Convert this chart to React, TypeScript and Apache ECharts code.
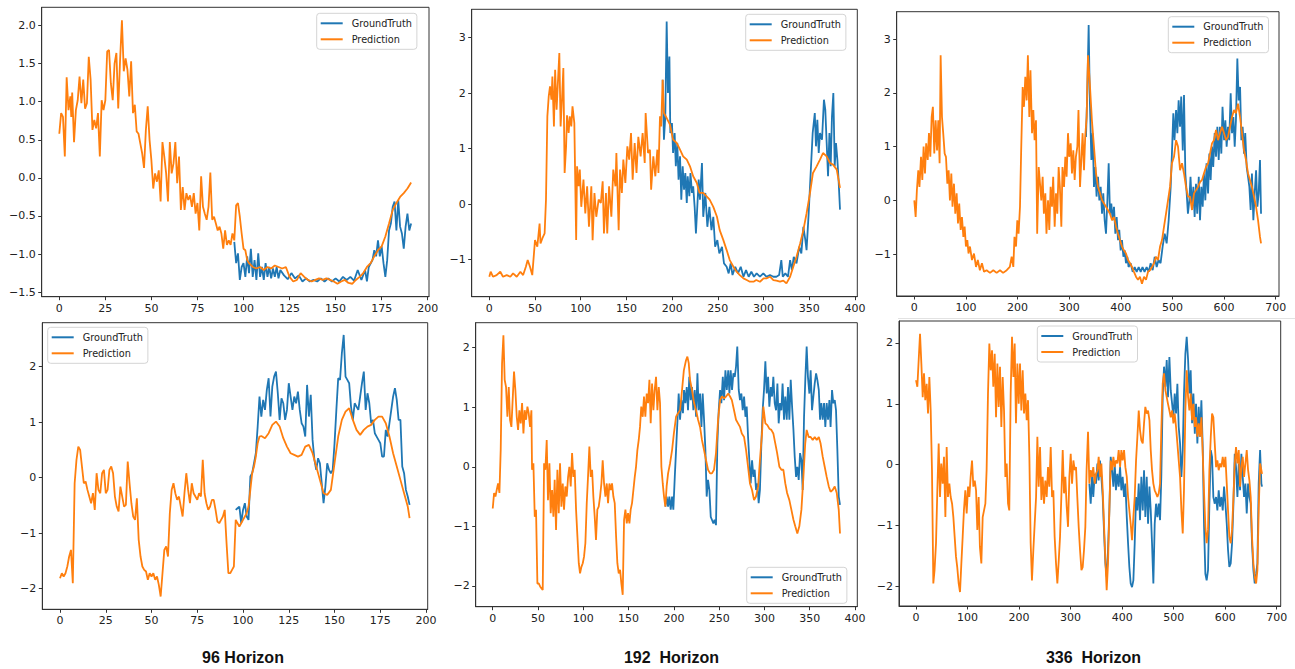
import React, { useEffect, useRef } from 'react';
import * as echarts from 'echarts';

type Pt = [number, number];

// ---------- tick labels ----------
const xTicks200 = [0, 25, 50, 75, 100, 125, 150, 175, 200];
const xTicks400 = [0, 50, 100, 150, 200, 250, 300, 350, 400];
const xTicks700 = [0, 100, 200, 300, 400, 500, 600, 700];
const yTicksA = [-1.5, -1, -0.5, 0, 0.5, 1, 1.5, 2];
const yTicksB = [-1, 0, 1, 2, 3];
const yTicksC = [-2, -1, 0, 1, 2];
const horizonTitles = ['96 Horizon', '192  Horizon', '336  Horizon'];
const seriesNames = ['GroundTruth', 'Prediction'];

// ---------- 96 horizon, top ----------
const h96aPred: Pt[] = [[0,0.58],[1,0.85],[2,0.8],[3,0.28],[4,1.32],[5,0.89],[6,1.07],[6.5,0.8],[7,1.12],[8,0.47],[9,0.89],[10,1.02],[11,1.33],[12,0.98],[13,1.29],[14,0.91],[15,0.98],[16,1.59],[17,1.29],[18,0.63],[19,0.76],[20,0.65],[21,0.85],[22,0.28],[23,1.02],[24,0.89],[25,1.02],[26,1.66],[27,1.68],[28,1.24],[29,1.02],[30,1.5],[31,1.64],[32,0.91],[33,1.55],[34,2.07],[35,1.4],[36,1.57],[37,1.42],[38,1.07],[39,1.53],[40,0.85],[41,0.96],[42,0.61],[43,0.58],[44,0.45],[45,0.32],[46,0.13],[47,0.63],[48,0.94],[49,0.5],[50,0.23],[51,-0.14],[52,0.06],[53,-0.05],[54,0.1],[55,-0.31],[56,0.47],[57,0.28],[58,0.06],[59,-0.31],[60,0.47],[61,0.06],[62,0.19],[63,0.47],[64,-0.07],[65,0.28],[66,-0.42],[67,-0.12],[68,-0.42],[69,-0.2],[70,-0.29],[71,-0.23],[72,-0.38],[73,-0.2],[74,-0.47],[75,-0.33],[76,-0.69],[77,0.02],[78,-0.38],[79,-0.47],[80,-0.55],[81,-0.38],[82,0.07],[83,-0.55],[84,-0.51],[85,-0.6],[86,-0.69],[87,-0.64],[88,-0.73],[89,-0.93],[90,-0.69],[91,-0.88],[92,-0.82],[93,-0.88],[94,-0.73],[95,-0.82],[96,-0.36],[97,-0.33],[98,-0.51],[99,-0.73],[100,-0.93],[101,-0.95],[102,-1.08],[103,-1.12],[105,-1.17],[107,-1.19],[109,-1.17],[111,-1.21],[113,-1.17],[115,-1.19],[117,-1.15],[119,-1.17],[121,-1.19],[123,-1.17],[125,-1.3],[127,-1.36],[129,-1.34],[131,-1.25],[133,-1.3],[135,-1.34],[137,-1.36],[139,-1.34],[141,-1.32],[143,-1.34],[145,-1.32],[147,-1.34],[149,-1.36],[151,-1.39],[153,-1.36],[155,-1.34],[157,-1.38],[159,-1.39],[161,-1.34],[163,-1.3],[165,-1.25],[167,-1.17],[169,-1.12],[171,-1.03],[173,-0.95],[175,-0.9],[177,-0.77],[179,-0.6],[181,-0.42],[183,-0.33],[185,-0.25],[187,-0.2],[189,-0.14],[191,-0.06]];
const h96aTrue: Pt[] = [[95,-0.84],[96,-1.12],[97,-0.99],[98,-1.34],[99,-1.17],[100,-1.12],[101,-1.3],[102,-1.03],[103,-1.25],[104,-0.93],[105,-1.3],[106,-1.08],[107,-1.34],[108,-0.99],[109,-1.3],[110,-1.17],[111,-1.34],[112,-1.12],[113,-1.3],[114,-1.17],[115,-1.32],[116,-1.19],[117,-1.3],[118,-1.17],[119,-1.32],[120,-1.21],[122,-1.28],[124,-1.33],[126,-1.25],[128,-1.32],[130,-1.28],[132,-1.36],[134,-1.32],[136,-1.36],[138,-1.34],[140,-1.36],[142,-1.32],[144,-1.36],[146,-1.32],[148,-1.36],[150,-1.32],[152,-1.36],[154,-1.3],[156,-1.34],[158,-1.3],[160,-1.35],[162,-1.21],[164,-1.34],[166,-1.21],[167,-1.36],[168,-1.17],[170,-1.08],[171,-0.95],[172,-1.03],[173,-0.82],[174,-1.03],[175,-0.9],[176,-1.12],[177,-1.3],[178,-1.08],[179,-0.69],[180,-0.6],[181,-0.38],[182,-0.31],[183,-0.69],[184,-0.29],[185,-0.64],[186,-0.73],[187,-0.93],[188,-0.64],[189,-0.47],[190,-0.69],[191,-0.6]];

// ---------- 192 horizon, top ----------
const h192aPred: Pt[] = [[0,-1.31],[1.5,-1.22],[4,-1.31],[8,-1.28],[12,-1.22],[15,-1.31],[19,-1.28],[23,-1.31],[26,-1.25],[30,-1.31],[34,-1.22],[37,-1.28],[40,-1.13],[42,-1.01],[44.5,-1.13],[47,-1.28],[48,-1.07],[50,-0.65],[52.5,-0.77],[55,-0.35],[56,-0.71],[58,-0.62],[60.5,-0.53],[62,0.08],[63.5,1.58],[65,1.94],[66.4,2.12],[68,1.88],[69,2.3],[70.7,1.4],[72,2.42],[73.6,1.7],[75,2.18],[76.6,2.72],[78,1.4],[79.5,1.88],[81,2.45],[82.4,0.56],[84,1.04],[85,1.6],[86.8,1.28],[88,1.58],[89.7,1.4],[91,1.76],[93,1.46],[95,-0.65],[96,0.68],[97.7,0.32],[99,0.62],[100.6,-0.05],[103,0.44],[105,-0.17],[107,0.32],[109,-0.41],[111.6,0.32],[113,-0.65],[115,0.2],[117,-0.23],[119.6,0.08],[122,0.02],[124,0.41],[125.4,-0.53],[127.6,0.2],[129,-0.53],[131,0.32],[133.5,-0.23],[135.6,0.62],[138,0.32],[139,0.92],[141.5,-0.47],[143,0.62],[145,0.2],[146.6,0.8],[148.8,0.38],[151,1.04],[153,0.8],[155,1.28],[156.8,0.44],[159,1.1],[161,0.56],[163,1.21],[165.5,0.86],[167.7,1.28],[170,0.74],[171,1.64],[173.6,0.92],[175.7,0.98],[177,0.26],[179.4,0.86],[181.6,0.5],[183.8,0.98],[185,0.56],[186.7,1.58],[188,1.4],[189.6,2.24],[191,1.64],[194,1.55],[197.6,1.43],[201,1.16],[205,1.1],[208.6,0.98],[212,0.86],[216,0.8],[219.5,0.68],[223,0.5],[227,0.38],[230,0.2],[234,0.2],[237.7,0.14],[241,0.08],[245,-0.05],[249,-0.23],[252,-0.47],[256,-0.65],[259.6,-0.83],[263,-1.01],[267,-1.13],[270.5,-1.22],[274,-1.28],[278,-1.34],[281.5,-1.37],[285,-1.4],[289,-1.4],[292,-1.37],[296,-1.4],[300,-1.34],[303,-1.34],[307,-1.31],[310.7,-1.37],[314,-1.38],[318,-1.4],[321.6,-1.38],[325,-1.43],[329,-1.31],[332.5,-1.13],[336,-0.95],[340,-0.71],[343.5,-0.47],[347,-0.17],[350.8,0.2],[354,0.56],[358,0.68],[361.7,0.8],[365,0.92],[369,0.86],[372.6,0.74],[376,0.71],[380,0.62],[383.6,0.29]];
const h192aTrue: Pt[] = [[189.6,2.24],[191,1.16],[192.5,1.58],[194,3.29],[195.4,2.0],[197,2.66],[198,1.28],[199.8,1.46],[201,0.92],[202.7,1.28],[204,0.68],[205.6,1.1],[207,0.44],[208.6,0.86],[210,0.08],[211.5,0.68],[213,0.26],[214.4,0.56],[216,0.02],[217,0.5],[218.8,0.14],[220,0.56],[221.7,0.2],[223,0.32],[224.6,-0.05],[226,-0.53],[227.5,-0.05],[229,0.44],[230.4,0.08],[232.6,0.74],[234,-0.23],[236.3,0.2],[238.5,-0.41],[240.7,-0.05],[243,-0.47],[245,-0.23],[247,-0.77],[249.4,-0.65],[251.6,-0.89],[254.5,-0.77],[256.7,-1.07],[259.6,-1.13],[261.8,-1.25],[264,-1.07],[266,-1.28],[269,-1.13],[272,-1.25],[275,-1.13],[278,-1.31],[280.8,-1.19],[283.7,-1.31],[286.6,-1.22],[289.5,-1.31],[292.4,-1.25],[296,-1.31],[299.7,-1.25],[303,-1.31],[307,-1.28],[310.7,-1.31],[314,-1.31],[317,-1.28],[319.4,-1.01],[321,-1.31],[323.8,-1.25],[326.7,-1.31],[329,-1.01],[331,-1.19],[333,-0.95],[336,-1.07],[339,-0.77],[341.3,-0.89],[343.5,-0.41],[345.7,-0.65],[347,-0.83],[349.3,-0.17],[351.5,0.56],[353.7,1.28],[356,1.64],[357.3,1.04],[358.8,1.52],[360.3,0.92],[361.7,1.28],[363.9,1.16],[366,1.88],[367.5,1.7],[369,1.1],[370.5,0.5],[372,1.28],[373.4,0.68],[374.8,1.58],[376.3,2.0],[377.8,0.68],[379.2,1.1],[380.7,0.8],[382,0.44],[383.6,-0.1]];

// ---------- 336 horizon, top ----------
const h336aPred: Pt[] = [[0,0.0],[2.6,-0.31],[5,0.19],[7.7,0.56],[10,0.25],[13,0.81],[15.5,0.38],[18,1.0],[20.7,0.5],[23,1.06],[26,0.75],[28.4,1.25],[31,0.81],[33.6,1.55],[36,1.74],[38.7,0.87],[41.3,1.49],[44,0.93],[46.5,1.49],[49,0.69],[51,2.7],[53.6,1.55],[56,1.25],[58.8,0.87],[61.3,0.81],[64,0.31],[66.5,0.56],[69,0.0],[71.7,0.5],[74,-0.12],[76.8,0.31],[79.4,-0.25],[82,0.13],[84.6,-0.43],[87,-0.06],[89.8,-0.55],[92.3,-0.31],[95,-0.68],[97.5,-0.49],[100,-0.86],[102.7,-0.74],[105,-0.99],[107.8,-0.86],[111.7,-1.11],[115.6,-0.99],[119.5,-1.24],[123,-1.11],[127,-1.3],[131,-1.17],[135,-1.33],[140,-1.3],[146.6,-1.35],[153,-1.3],[159.5,-1.35],[166,-1.3],[172,-1.35],[179,-1.3],[185,-1.24],[188.6,-1.05],[191.8,-1.24],[194,-0.68],[197,-0.86],[199.5,-0.37],[202,-0.62],[204.7,-0.12],[207,0.93],[209.9,2.11],[212.4,1.74],[215,2.3],[217.6,1.86],[220,2.7],[222.8,1.55],[225,2.42],[228,1.25],[230.5,1.68],[233,1.12],[235.7,1.49],[238,-0.62],[241,0.62],[243.5,0.31],[246,0.0],[248.6,0.44],[251,-0.25],[253.8,0.13],[256,-0.62],[259,0.0],[261.5,-0.55],[264,0.25],[266.7,-0.12],[269,0.44],[271.9,-0.49],[274.4,0.13],[277,-0.25],[279.6,0.62],[282,0.25],[284.8,-0.49],[287,0.62],[290,0.25],[292.5,0.81],[295,0.44],[297.7,1.25],[300,0.81],[302.9,1.06],[305.4,0.5],[308,0.93],[310.6,0.38],[313,0.81],[315.8,1.0],[318,1.68],[321,0.25],[323.5,0.75],[326,1.25],[328.7,0.56],[331,1.18],[333.8,1.55],[336.4,2.7],[340,2.17],[344,1.49],[348,1.0],[352,0.5],[355.8,0.25],[359.7,0.13],[363.6,0.0],[367.4,-0.06],[371.3,-0.12],[375,-0.18],[379,-0.25],[383,-0.37],[386.8,-0.31],[390.7,-0.49],[394.6,-0.62],[398.4,-0.74],[402.3,-0.86],[406,-0.93],[410,-0.99],[414,-1.11],[417.8,-1.17],[421.7,-1.24],[425.5,-1.33],[429.4,-1.42],[433.3,-1.48],[437,-1.42],[441,-1.55],[445,-1.42],[448.8,-1.48],[452.7,-1.33],[456.5,-1.3],[460.4,-1.24],[464.3,-1.17],[468,-1.05],[472,-1.11],[476,-0.86],[479.8,-0.74],[483.7,-0.49],[487.5,-0.25],[491.4,0.0],[495.3,0.25],[499,0.69],[503,0.81],[507,1.12],[510.8,1.0],[514.7,0.56],[518.5,0.69],[522.4,0.5],[526.3,0.25],[530,0.07],[534,0.07],[538,-0.18],[541.8,0.13],[545.6,0.19],[549.5,0.25],[553.4,0.34],[557.3,0.38],[561,0.5],[565,0.62],[569,0.69],[572.8,0.87],[576.6,1.06],[580.5,1.12],[584.4,1.31],[588.3,1.12],[592,1.25],[596,1.37],[600,1.25],[603.8,1.12],[607.6,1.18],[611.5,1.37],[615.4,1.55],[619.3,1.68],[623,1.62],[627,1.8],[631,1.55],[634.8,1.25],[638.6,0.93],[642.5,0.75],[646.4,0.5],[650.2,0.38],[654,0.25],[658,0.07],[662,-0.12],[665.8,-0.37],[669.6,-0.68],[671.6,-0.8]];
const h336aTrue: Pt[] = [[332.6,1.18],[335,1.99],[337.7,3.26],[340,1.86],[343,0.75],[345.5,1.25],[348,0.25],[350.6,0.62],[353,0.07],[355.8,0.44],[358.4,0.0],[361,0.25],[363.6,-0.25],[366,0.13],[368.7,-0.37],[371.3,-0.62],[374,0.0],[376.5,0.69],[379,-0.25],[381.6,-0.06],[384,-0.37],[386.8,-0.12],[389.4,-0.62],[392,-0.31],[394.6,-0.74],[397,-0.55],[399.7,-0.93],[402.3,-0.74],[405,-1.05],[407.5,-0.93],[410,-1.17],[412.6,-1.05],[415,-1.24],[419,-1.17],[423,-1.33],[426.8,-1.24],[430.7,-1.33],[434.6,-1.24],[438.5,-1.33],[442,-1.24],[446,-1.33],[450,-1.24],[454,-1.33],[457.8,-1.17],[461.7,-1.3],[465.6,-1.05],[469.5,-1.24],[473,-1.11],[477,-1.17],[481,-0.86],[485,-0.62],[488.8,-0.8],[492.7,-0.37],[496.6,0.25],[499,0.87],[501.7,1.62],[504,1.12],[507,1.68],[509.5,1.25],[512,1.86],[514.7,1.37],[517,1.93],[520,0.93],[522.4,1.96],[525,0.5],[527.6,0.13],[530,-0.25],[532.7,0.0],[535,0.44],[538,-0.18],[540.5,0.25],[543,-0.31],[545.6,0.31],[548,-0.25],[551,0.44],[553.4,-0.37],[556,0.25],[558.6,-0.12],[561,0.5],[563.7,0.0],[566,0.69],[569,0.13],[571.5,0.87],[574,0.38],[576.6,1.0],[579,0.62],[581.8,1.25],[584.4,0.81],[587,1.37],[589.6,0.75],[592,1.37],[594.7,0.87],[597,1.74],[600,1.12],[602.5,1.49],[605,1.0],[607.6,1.37],[610,1.12],[612.8,1.99],[615.4,1.25],[618,1.55],[620.6,1.0],[623,1.49],[625.7,2.64],[628.3,1.86],[631,2.11],[633.5,1.12],[636,1.37],[638.6,0.87],[641,1.25],[643.8,0.62],[646.4,0.44],[649,0.25],[651.5,-0.18],[654,0.5],[656.7,-0.37],[659.3,0.13],[662,0.56],[664.5,-0.12],[667,0.13],[669.6,0.75],[671.6,-0.25]];

// ---------- 96 horizon, bottom ----------
const h96bPred: Pt[] = [[0,-1.81],[1,-1.72],[2,-1.78],[3,-1.72],[4,-1.6],[5,-1.42],[6,-1.3],[7,-1.9],[8,-0.1],[9,0.32],[10,0.56],[11,0.5],[12,0.2],[13,-0.1],[14,-0.07],[15,-0.22],[16,-0.34],[17,-0.46],[18,-0.28],[19,-0.58],[20,0.08],[21,-0.22],[22,-0.28],[23,0.08],[24,0.14],[25,-0.28],[26,-0.22],[27,0.14],[28,0.2],[29,0.08],[30,-0.34],[31,-0.52],[32,-0.61],[33,-0.16],[34,-0.34],[35,-0.52],[36,-0.49],[37,0.29],[38,-0.1],[39,-0.46],[40,-0.7],[41,-0.76],[42,-0.37],[43,-1.12],[44,-1.42],[45,-1.6],[46,-1.66],[47,-1.69],[48,-1.84],[49,-1.72],[50,-1.78],[51,-1.72],[52,-1.84],[53,-1.78],[54,-1.93],[55,-2.14],[56,-1.72],[57,-1.3],[58,-1.24],[59,-1.42],[60,-0.64],[61,-0.22],[62,-0.1],[63,-0.28],[64,-0.4],[65,-0.34],[66,-0.52],[67,-0.7],[68,-0.28],[69,0.08],[70,-0.22],[71,-0.46],[72,-0.1],[73,-0.28],[74,-0.34],[75,-0.4],[76,-0.28],[77,-0.34],[78,0.32],[79,-0.28],[80,-0.46],[81,-0.58],[82,-0.52],[83,-0.4],[84,-0.4],[85,-0.58],[86,-0.79],[87,-0.82],[88,-0.76],[89,-0.7],[90,-0.58],[91,-1.18],[92,-1.72],[93,-1.72],[94,-1.66],[95,-1.6],[96,-0.76],[97,-0.82],[98,-0.88],[99,-0.82],[100,-0.76],[101,-0.7],[102,-0.64],[103,-0.52],[104,-0.22],[105,0.08],[106,0.2],[107,0.38],[108,0.62],[109,0.74],[110,0.75],[112,0.71],[114,0.8],[116,0.95],[118,1.01],[120,0.92],[122,0.71],[124,0.56],[126,0.44],[128,0.41],[130,0.38],[132,0.41],[134,0.56],[136,0.59],[138,0.44],[140,0.2],[142,-0.04],[144,-0.28],[146,-0.31],[148,-0.22],[150,0.26],[152,0.74],[154,1.04],[156,1.19],[158,1.25],[160,1.04],[162,0.86],[164,0.77],[166,0.86],[168,0.92],[170,0.95],[172,1.04],[174,1.1],[176,1.1],[178,0.98],[180,0.74],[182,0.44],[184,0.2],[186,-0.04],[188,-0.28],[190,-0.52],[191,-0.73]];
const h96bTrue: Pt[] = [[96,-0.58],[97,-0.55],[98,-0.52],[99,-0.82],[100,-0.58],[101,-0.46],[102,-0.7],[103,-0.76],[104,0.02],[105,0.08],[106,0.26],[107,0.44],[108,0.92],[109,1.46],[110,1.1],[111,1.4],[112,1.22],[113,1.58],[114,1.79],[115,1.1],[116,1.64],[117,1.82],[118,1.91],[119,1.52],[120,1.04],[121,1.43],[122,1.34],[123,1.04],[124,1.22],[125,1.7],[126,1.46],[127,1.22],[128,1.46],[129,1.34],[130,1.55],[131,1.22],[132,0.98],[133,0.92],[134,0.74],[135,1.67],[136,1.1],[137,1.49],[138,0.68],[139,0.32],[140,0.14],[141,0.35],[142,0.26],[143,-0.1],[144,-0.46],[145,-0.16],[146,0.26],[147,0.14],[148,0.08],[149,0.14],[150,0.62],[151,1.22],[152,1.79],[153,1.76],[154,2.24],[155,2.57],[156,1.82],[157,1.76],[158,1.7],[159,1.28],[160,1.04],[161,1.34],[162,1.28],[163,1.22],[164,1.46],[165,1.7],[166,1.91],[167,1.22],[168,1.52],[169,1.34],[170,0.98],[171,1.04],[172,0.8],[173,0.74],[174,0.68],[175,0.62],[176,0.38],[177,0.38],[178,0.86],[179,0.74],[180,0.98],[181,1.22],[182,1.46],[183,1.61],[184,1.4],[185,1.04],[186,1.04],[187,0.2],[188,0.08],[189,-0.22],[190,-0.34],[191,-0.49]];

// ---------- 192 horizon, bottom ----------
const h192bPred: Pt[] = [[0,-0.7],[1.5,-0.44],[3,-0.5],[4.4,-0.39],[5.9,-0.28],[7.4,-0.44],[8.8,0.28],[10.3,1.74],[11.8,2.21],[13.2,1.46],[14.7,1.34],[16.2,0.84],[17.7,1.34],[19.1,0.79],[20.6,0.67],[22,1.12],[23.5,1.6],[25,1.29],[26.5,0.84],[28,0.62],[29.4,0.95],[30.9,0.73],[32.4,1.07],[33.9,0.56],[35.3,0.95],[36.8,0.79],[38.3,1.01],[39.7,0.9],[41.2,0.67],[42.7,0.95],[43.4,-0.05],[44.9,0.06],[46.4,-0.84],[47.8,-0.72],[49.3,-1.96],[50.8,-1.96],[52.3,-2.01],[53.7,-2.04],[55.2,-2.07],[56.7,0.06],[58.1,-0.05],[59.6,0.45],[61,-0.56],[62.6,0.06],[64,-0.78],[65.5,-0.39],[67,-0.84],[68.4,-0.22],[69.9,-1.06],[71.4,-0.05],[72.9,-0.78],[74.3,0.06],[75.8,-0.67],[77.3,-0.28],[78.7,-0.72],[80.2,-0.33],[81.7,-0.5],[83.2,-0.17],[84.6,0.0],[86.1,-0.33],[87.6,0.23],[89,-0.17],[90.5,-0.05],[92,-0.72],[93.5,-1.17],[95,-1.62],[96.4,-1.79],[97.9,-1.68],[99.4,-1.62],[100.8,-1.51],[102.3,-1.28],[103.8,-0.61],[105.2,-0.17],[106.7,0.34],[108.2,-0.17],[109.7,-0.05],[111.1,-0.5],[112.6,-0.84],[114,-1.23],[115.5,-0.72],[117,-0.67],[118.5,-0.5],[120,-0.28],[121.4,0.11],[122.9,-0.28],[124.4,-0.5],[125.9,-0.28],[127.3,-0.61],[128.8,-0.28],[130.3,-0.39],[131.7,-0.28],[133.2,-0.5],[134.7,-0.61],[136.2,-1.17],[137.6,-1.62],[139.1,-1.79],[140.6,-1.73],[142,-1.96],[143.5,-2.15],[145,-0.89],[146.5,-0.72],[148,-0.95],[149.4,-0.78],[150.9,-0.95],[152.3,-0.72],[153.8,-0.61],[155.3,-0.39],[156.8,-0.17],[158.2,0.0],[159.7,0.28],[161.2,0.45],[162.6,0.67],[164,1.01],[165.6,0.84],[167,1.18],[168.5,0.84],[170,1.23],[171.5,1.07],[173,1.46],[174.4,0.73],[175.9,1.4],[177.4,0.95],[178.8,1.29],[180.3,1.51],[181.8,0.95],[183.3,1.34],[184.7,1.07],[186.2,0.0],[187.7,-0.28],[189.1,-0.5],[190.6,-0.67],[192,-0.33],[193.6,-0.11],[195.8,0.06],[198,0.28],[200,0.56],[202.4,0.84],[204.6,0.9],[206.8,0.95],[209,1.29],[211,1.62],[213.4,1.79],[214.9,1.85],[216.4,1.74],[217.8,1.46],[220,1.29],[222.3,1.07],[224.5,0.95],[226.7,0.79],[228.9,0.67],[231,0.45],[233.3,0.28],[235.5,0.11],[237.7,-0.05],[240,-0.11],[242,-0.11],[244.3,-0.05],[246.5,0.23],[248.8,0.79],[251,1.12],[253,1.18],[255.4,1.15],[257.6,1.18],[260,1.23],[262,1.18],[264,1.12],[266.4,0.95],[268.6,0.79],[270.8,0.73],[273,0.67],[275,0.56],[277.5,0.5],[279.7,0.28],[281.9,0.0],[284,-0.28],[286.3,-0.39],[288.5,-0.56],[290.7,-0.5],[293,-0.33],[295,0.11],[297.3,0.56],[298.8,1.01],[301,0.73],[303.2,0.7],[305.4,0.64],[307.6,0.62],[309.8,0.56],[312,0.39],[314,0.23],[316.5,0.0],[318.7,-0.05],[320.9,-0.05],[323,-0.28],[325,-0.44],[327.5,-0.56],[329.7,-0.72],[332,-0.89],[334,-1.0],[336.3,-1.12],[338.5,-1.0],[340.8,-0.72],[343,-0.17],[345,0.39],[346.6,0.62],[348.8,0.5],[351,0.5],[353.3,0.45],[355.5,0.5],[357.7,0.45],[360,0.5],[362,0.39],[364.3,0.17],[366.5,0.0],[368.7,-0.17],[371,-0.33],[373,-0.42],[375.3,-0.39],[377.6,-0.33],[379.8,-0.44],[382,-0.72],[383.4,-1.12]];
const h192bTrue: Pt[] = [[190.6,-0.67],[192,-0.5],[193.6,-0.67],[195,-0.5],[196.5,-0.72],[198,-0.5],[199.4,-0.72],[201,-0.17],[202.4,0.28],[204,0.79],[205.3,1.23],[206.8,0.79],[208.3,1.12],[210,0.9],[211.2,1.29],[212.7,1.07],[214.2,1.34],[215.6,0.95],[217,1.51],[218.6,1.12],[220,1.34],[221.5,0.95],[223,1.29],[224.5,0.84],[226,1.57],[227.4,0.95],[228.9,1.23],[230.4,0.67],[231.8,1.23],[233.3,0.79],[234.8,0.28],[236.2,-0.5],[237.7,-0.22],[239.2,-0.39],[240.7,-0.84],[242,-0.89],[243.6,-0.95],[245,-0.89],[246.5,-0.98],[248,0.39],[249.5,0.95],[251,1.29],[252.4,1.07],[254,1.51],[255.4,1.12],[256.9,1.62],[258.4,1.29],[260,1.62],[261.3,1.23],[262.7,1.62],[264.2,1.29],[265.7,1.57],[267.2,1.51],[268.6,1.68],[270,2.02],[271.6,1.29],[273,1.12],[274.5,1.23],[276,0.95],[277.5,1.18],[279,0.84],[280.4,1.01],[281.9,0.5],[283.3,0.11],[284.8,-0.28],[286.3,0.11],[287.8,-0.17],[289.2,-0.05],[290.7,-0.39],[292.2,-0.28],[293.6,-0.61],[295,-0.39],[296.6,0.39],[298,0.95],[299.5,1.29],[301,1.77],[302.5,1.23],[304,1.51],[305.4,1.01],[307,1.34],[308.4,1.18],[309.8,1.51],[311.3,1.07],[312.8,0.95],[314.3,1.4],[315.7,0.73],[317.2,1.07],[318.7,0.95],[320,1.4],[321.6,0.79],[323,1.18],[324.6,0.79],[326,1.34],[327.5,0.79],[329,1.46],[330.5,1.01],[332,0.62],[333.4,0.17],[334.9,-0.17],[336.3,0.0],[337.8,-0.22],[339.3,0.23],[340.8,0.11],[342.2,-0.39],[343.7,0.84],[345.2,1.51],[346.6,2.02],[348,1.51],[349.6,1.23],[351,1.62],[352.5,0.95],[354,1.18],[355.5,1.4],[357,1.57],[358.4,1.46],[360,1.29],[361.4,0.79],[362.8,1.07],[364.3,0.79],[365.8,1.07],[367.2,0.67],[368.7,1.07],[370.2,0.79],[371.7,1.12],[373,0.67],[374.6,1.29],[376,1.07],[377.6,1.12],[379,0.95],[380.5,0.28],[382,-0.5],[383.4,-0.64]];

// ---------- 336 horizon, bottom ----------
const h336bPred: Pt[] = [[0,1.39],[2.6,1.28],[5.2,1.72],[7.8,2.15],[10.4,1.66],[13,1.11],[15.5,1.5],[18,1.06],[20.7,1.33],[23.3,0.84],[25.9,1.44],[28.5,0.89],[31,-0.09],[33.6,-1.95],[36,-1.73],[38.8,-1.29],[41.4,-0.42],[44,0.35],[46.6,-0.53],[49,0.02],[51.8,-0.31],[54.3,0.13],[57,-0.86],[59.5,0.29],[62,-0.53],[64.7,-0.31],[67.3,-0.53],[70,-0.64],[72.5,-0.86],[75,-1.18],[77.6,-1.51],[80,-1.68],[82.8,-1.95],[85.4,-2.09],[88,-1.62],[90.6,-1.18],[93,-0.75],[95.7,-0.42],[98.3,-0.8],[101,-0.36],[103.5,-0.53],[106,-0.2],[108.7,0.07],[111.3,-0.36],[114,-0.26],[116.5,-0.42],[119,-1.07],[121.6,-0.53],[124,-1.35],[126.8,-1.62],[129.4,-0.86],[132,-0.75],[134.6,-0.64],[137,-0.09],[139.7,1.17],[142.3,1.99],[145,1.55],[147.5,1.88],[150,1.28],[152.7,1.82],[155.3,0.78],[157.9,1.66],[160.4,0.95],[163,1.61],[165.6,0.62],[168.2,1.44],[170.8,0.89],[173.4,-0.2],[176,0.02],[178.6,-0.64],[181,-0.75],[183.7,1.17],[186.3,2.1],[189,1.44],[191.5,1.99],[194,0.68],[196.7,1.66],[199.3,1.0],[201.8,1.66],[204.4,0.89],[207,1.55],[209.6,0.84],[212.2,1.17],[214.8,0.73],[217.4,1.06],[220,0.13],[222.5,-1.29],[225,-1.9],[227.7,-1.4],[230.3,-0.97],[233,-0.53],[235.5,0.46],[238,-0.36],[240.7,0.29],[243.3,-0.58],[245.8,-0.2],[248.4,-0.64],[251,-0.26],[253.6,-0.53],[256.2,-0.04],[258.8,-0.36],[261.4,0.29],[264,-0.53],[266.5,-0.42],[269,-1.18],[271.7,-1.62],[274.3,-1.95],[277,-1.57],[279.5,-1.18],[282,-0.53],[284.7,0.24],[287.2,-0.47],[289.8,-0.2],[292.4,-0.69],[295,-1.02],[297.6,-0.2],[300.2,0.18],[302.8,-0.31],[305.4,0.07],[308,-0.09],[310.5,-0.04],[313,-0.53],[315.7,-1.02],[318.3,-1.4],[321,-1.73],[323.5,-1.68],[326,-1.4],[328.6,-1.02],[331,-0.09],[333.8,0.54],[336.4,-0.31],[339,-0.09],[341.6,-0.2],[344,-0.04],[346.8,-0.31],[349.3,-0.15],[352,-0.09],[354.5,0.13],[357,-0.2],[359.7,0.02],[362.3,-0.42],[365,-1.02],[367.5,-1.57],[370,-2.06],[372.6,-1.62],[375.2,-0.75],[377.8,0.07],[380.4,-0.09],[383,0.13],[385.6,-0.04],[388,0.07],[390.7,0.02],[393.3,0.24],[396,-0.04],[398.5,0.24],[401,0.07],[403.7,0.24],[406.3,-0.04],[409,-0.2],[411.5,-0.53],[414,-0.75],[416.6,-0.97],[419.2,-1.24],[421.8,-0.86],[424.4,-0.53],[427,0.07],[429.6,0.46],[432.2,0.89],[434.7,0.57],[437.3,0.4],[440,0.35],[442.5,0.68],[445,0.95],[447.7,0.84],[450.3,0.89],[453,0.73],[455.5,0.24],[458,-0.09],[460.6,-0.31],[463.2,-0.42],[465.8,-0.47],[468.4,-0.53],[471,-0.47],[473.6,-0.31],[476,0.57],[478.7,1.33],[481.3,1.5],[484,1.22],[486.5,1.11],[489,1.0],[491.7,0.89],[494.3,0.78],[497,0.89],[499.5,0.68],[502,0.84],[504.6,0.62],[507.2,0.35],[509.8,0.07],[512.4,-0.2],[515,-0.75],[517.6,-1.13],[520,-0.42],[522.7,0.89],[525.3,1.55],[528,1.11],[530.5,0.89],[533,1.17],[535.7,0.73],[538.3,1.0],[541,0.62],[543.4,0.78],[546,0.46],[548.6,0.68],[551,0.46],[553.8,0.78],[556.4,0.18],[559,-0.47],[561.5,-1.02],[564,-1.29],[566.7,-1.07],[569.3,-0.09],[572,0.46],[574.5,0.84],[577,0.78],[579.7,0.35],[582.3,-0.04],[584.8,0.07],[587.4,-0.09],[590,0.02],[592.6,-0.04],[595.2,0.13],[597.8,-0.04],[600.4,0.13],[603,-0.31],[605.5,-0.75],[608,-1.18],[610.7,-1.29],[613.3,-1.07],[616,-0.53],[618.5,0.02],[621,0.29],[623.7,0.02],[626.3,0.24],[628.8,-0.36],[631.4,-0.04],[634,0.13],[636.6,-0.2],[639.2,0.02],[641.8,0.24],[644.4,-0.09],[647,-0.26],[649.5,-0.53],[652,-1.18],[654.7,-1.62],[657.3,-1.84],[660,-1.95],[662.5,-1.73],[665,-0.75],[667.7,0.02],[670.2,-0.09],[671.5,-0.15]];
const h336bTrue: Pt[] = [[336.4,-0.31],[339,-0.64],[341.6,-0.2],[344,-0.53],[346.8,-0.15],[349.3,-0.31],[352,0.02],[354.5,-0.26],[357,0.07],[359.7,-0.2],[362.3,-0.53],[365,-1.13],[367.5,-1.62],[370,-1.84],[372.6,-1.4],[375.2,-0.75],[377.8,0.13],[380.4,-0.09],[383,-0.36],[385.6,0.02],[388,-0.42],[390.7,-0.15],[393.3,-0.36],[396,-0.04],[398.5,-0.42],[401,-0.2],[403.7,-0.53],[406.3,-0.31],[409,-0.86],[411.5,-1.29],[414,-1.68],[416.6,-1.95],[419.2,-2.01],[421.8,-1.9],[424.4,-1.29],[427,-0.53],[429.6,-0.75],[432.2,-0.31],[434.7,-0.91],[437.3,-0.2],[440,-0.75],[442.5,-0.09],[445,-0.86],[447.7,-0.2],[450.3,-0.97],[453,-0.36],[455.5,-0.75],[458,-1.29],[460.6,-1.95],[463.2,-0.97],[465.8,-0.64],[468.4,-0.86],[471,-0.64],[473.6,-0.91],[476,-0.2],[478.7,1.11],[481.3,1.61],[484,1.28],[486.5,1.72],[489,1.11],[491.7,1.77],[494.3,1.22],[497,1.0],[499.5,0.78],[502,1.17],[504.6,0.84],[507.2,1.33],[509.8,0.62],[512.4,0.35],[515,-0.2],[517.6,0.24],[520,1.17],[522.7,1.82],[525.3,2.1],[528,1.72],[530.5,1.17],[533,1.55],[535.7,0.68],[538.3,1.17],[541,0.51],[543.4,1.0],[546,0.35],[548.6,0.95],[551,0.46],[553.8,1.06],[556.4,0.29],[559,-1.02],[561.5,-1.79],[564,-1.9],[566.7,-1.73],[569.3,-0.64],[572,0.24],[574.5,0.13],[577,-0.53],[579.7,-0.64],[582.3,-0.53],[584.8,-0.75],[587.4,-0.42],[590,-0.69],[592.6,-0.53],[595.2,-0.75],[597.8,-0.36],[600.4,-0.64],[603,-0.97],[605.5,-1.4],[608,-1.68],[610.7,-1.62],[613.3,-1.29],[616,-0.64],[618.5,0.18],[621,-0.04],[623.7,-0.53],[626.3,0.02],[628.8,-0.42],[631.4,0.18],[634,-0.2],[636.6,-0.53],[639.2,-0.31],[641.8,-0.8],[644.4,-0.31],[647,-0.53],[649.5,-0.64],[652,-1.29],[654.7,-1.73],[657.3,-1.95],[660,-1.79],[662.5,-1.62],[665,-0.31],[667.7,0.24],[670.2,-0.31],[671.5,-0.36]];

const BLUE = '#1f77b4';
const ORANGE = '#ff7f0e';
const AXIS = '#333';
const TXT = '#222';

const fmtMinus = (s: string) => s.replace('-', '\u2212');

export default function App() {
  const ref = useRef<HTMLDivElement>(null);
  useEffect(() => {
    if (!ref.current) return;
    const chart = echarts.init(ref.current, null, { renderer: 'svg' });

    const panels = [
      { g: { left: 41.7, top: 7.3, width: 387.3, height: 289.4 }, x: [-9.55, 200.7], y: [-1.56, 2.24], xt: xTicks200, yt: yTicksA, dec: 1, lg: { left: 316.7, top: 13.3 }, truth: h96aTrue, pred: h96aPred },
      { g: { left: 471.7, top: 9.3, width: 385.6, height: 287.4 }, x: [-19.25, 402.5], y: [-1.67, 3.51], xt: xTicks400, yt: yTicksB, dec: 0, lg: { left: 745.7, top: 14.3 }, truth: h192aTrue, pred: h192aPred },
      { g: { left: 896.7, top: 11.7, width: 382.3, height: 284.3 }, x: [-34.1, 706.4], y: [-1.78, 3.51], xt: xTicks700, yt: yTicksB, dec: 0, lg: { left: 1168.3, top: 16.7 }, truth: h336aTrue, pred: h336aPred },
      { g: { left: 42.3, top: 322.7, width: 385.4, height: 286.6 }, x: [-9.67, 200.9], y: [-2.37, 2.79], xt: xTicks200, yt: yTicksC, dec: 0, lg: { left: 47.7, top: 327.3 }, truth: h96bTrue, pred: h96bPred },
      { g: { left: 475.7, top: 322.7, width: 381.6, height: 284 }, x: [-18.8, 402.5], y: [-2.35, 2.42], xt: xTicks400, yt: yTicksC, dec: 0, lg: { left: 746.7, top: 567.3 }, truth: h192bTrue, pred: h192bPred },
      { g: { left: 899, top: 321, width: 381.7, height: 285 }, x: [-33, 707.7], y: [-2.32, 2.36], xt: xTicks700, yt: yTicksC, dec: 0, lg: { left: 1037.3, top: 326 }, truth: h336bTrue, pred: h336bPred },
    ];

    const labelFont = { fontFamily: 'DejaVu Sans', fontSize: 11, color: TXT };

    const option: any = {
      animation: false,
      backgroundColor: '#fff',
      grid: panels.map((p) => ({ ...p.g, show: true, borderColor: AXIS, borderWidth: 1, backgroundColor: 'transparent' })),
      xAxis: panels.map((p, i) => ({
        type: 'value', gridIndex: i, min: p.x[0], max: p.x[1], position: 'bottom',
        axisLine: { show: true, onZero: false, lineStyle: { color: AXIS, width: 1 } },
        axisTick: { show: true, length: 3.5, lineStyle: { color: AXIS }, customValues: p.xt },
        axisLabel: { ...labelFont, margin: 6, customValues: p.xt, formatter: (v: number) => String(v) },
        splitLine: { show: false },
      })),
      yAxis: panels.map((p, i) => ({
        type: 'value', gridIndex: i, min: p.y[0], max: p.y[1], position: 'left',
        axisLine: { show: true, onZero: false, lineStyle: { color: AXIS, width: 1 } },
        axisTick: { show: true, length: 3.5, lineStyle: { color: AXIS }, customValues: p.yt },
        axisLabel: { ...labelFont, margin: 6, customValues: p.yt, formatter: (v: number) => fmtMinus(v.toFixed(p.dec)) },
        splitLine: { show: false },
      })),
      legend: panels.map((p) => ({
        left: p.lg.left, top: p.lg.top, orient: 'vertical',
        data: seriesNames, selectedMode: false,
        icon: 'rect', itemWidth: 22, itemHeight: 2, itemGap: 4,
        padding: [4, 5, 4, 4],
        backgroundColor: 'rgba(255,255,255,0.85)', borderColor: '#d4d4d4', borderWidth: 1, borderRadius: 3,
        textStyle: { fontFamily: 'DejaVu Sans', fontSize: 9.7, color: TXT, lineHeight: 12, padding: [0, 0, 0, 4] },
      })),
      series: panels.flatMap((p, i) => [
        { name: seriesNames[0], type: 'line', xAxisIndex: i, yAxisIndex: i, data: p.truth, showSymbol: false, symbol: 'none', color: BLUE, lineStyle: { color: BLUE, width: 1.8 }, z: 2 },
        { name: seriesNames[1], type: 'line', xAxisIndex: i, yAxisIndex: i, data: p.pred, showSymbol: false, symbol: 'none', color: ORANGE, lineStyle: { color: ORANGE, width: 1.8 }, z: 3 },
      ]),
      graphic: [
        { type: 'line', shape: { x1: 898, y1: 318.5, x2: 1295, y2: 318.5 }, style: { stroke: '#e2e2e2', lineWidth: 1 }, silent: true },
        ...horizonTitles.map((t, i) => ({
          type: 'text', x: [243, 671.5, 1093.5][i], y: 657,
          style: { text: t, fontFamily: 'Liberation Sans', fontWeight: 'bold', fontSize: 16, fill: '#111', textAlign: 'center', textVerticalAlign: 'middle' },
        })),
      ],
    };

    chart.setOption(option);
    return () => chart.dispose();
  }, []);

  return <div ref={ref} style={{ position: 'fixed', left: 0, top: 0, width: 1295, height: 669, background: '#fff' }} />;
}
